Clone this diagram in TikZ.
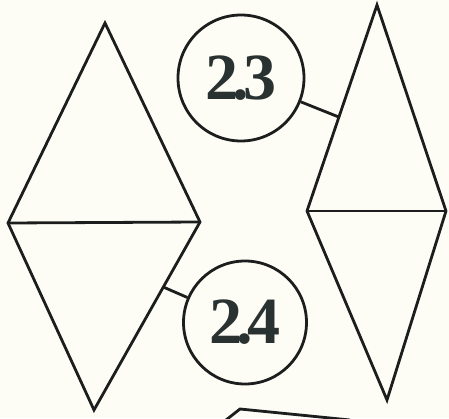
\documentclass[tikz,border=0pt]{standalone}
\usepackage{fontspec}
\setmainfont{Liberation Serif}
\usetikzlibrary{calc}
\definecolor{bg}{HTML}{FDFDF6}
\definecolor{ink}{HTML}{1C1E1E}
\definecolor{txt}{HTML}{2A3131}
\begin{document}
\begin{tikzpicture}[x=1pt,y=1pt,
  shape line/.style={draw=ink,line width=2.8pt,line join=miter},
  label circle/.style={circle,draw=ink,line width=2.8pt,minimum size=125pt,inner sep=0pt,
    font=\fontsize{66}{66}\selectfont\bfseries,text=txt},
  link/.style={draw=ink,line width=2.8pt}]
\fill[bg] (0,0) rectangle (449,418);
\useasboundingbox (0,0) rectangle (449,418);
\clip (0,0) rectangle (449,418);
% left diamond
\coordinate (LT) at (105,395);
\coordinate (LL) at (8,195);
\coordinate (LR) at (200,196);
\coordinate (LB) at (94,8);
\draw[shape line] (LT) -- (LR) -- (LB) -- (LL) -- cycle;
\draw[shape line] (LL) -- (LR);
% right diamond
\coordinate (RT) at (377,413);
\coordinate (RL) at (307,207);
\coordinate (RR) at (446,207);
\coordinate (RB) at (387,18);
\draw[shape line] (RT) -- (RR) -- (RB) -- (RL) -- cycle;
\draw[shape line] (RL) -- (RR);
% labels
\node[label circle,minimum size=126pt] (c23) at (241,340) {2\kern-0.09em.\kern-0.08em3};
\node[label circle,minimum size=123pt] (c24) at (245,95.5) {2\kern-0.09em.\kern-0.08em4};
\coordinate (p23) at ($(RT)!0.544!(RL)$);
\coordinate (p24) at ($(LR)!0.346!(LB)$);
\draw[link] (c23) -- (p23);
\draw[link] (c24) -- (p24);
% partial shape at bottom edge
\coordinate (b1) at (226,-2);
\coordinate (b2) at (240,9);
\coordinate (b3) at (350,-2);
\draw[shape line] (b1) -- (b2) -- (b3);
\end{tikzpicture}
\end{document}
